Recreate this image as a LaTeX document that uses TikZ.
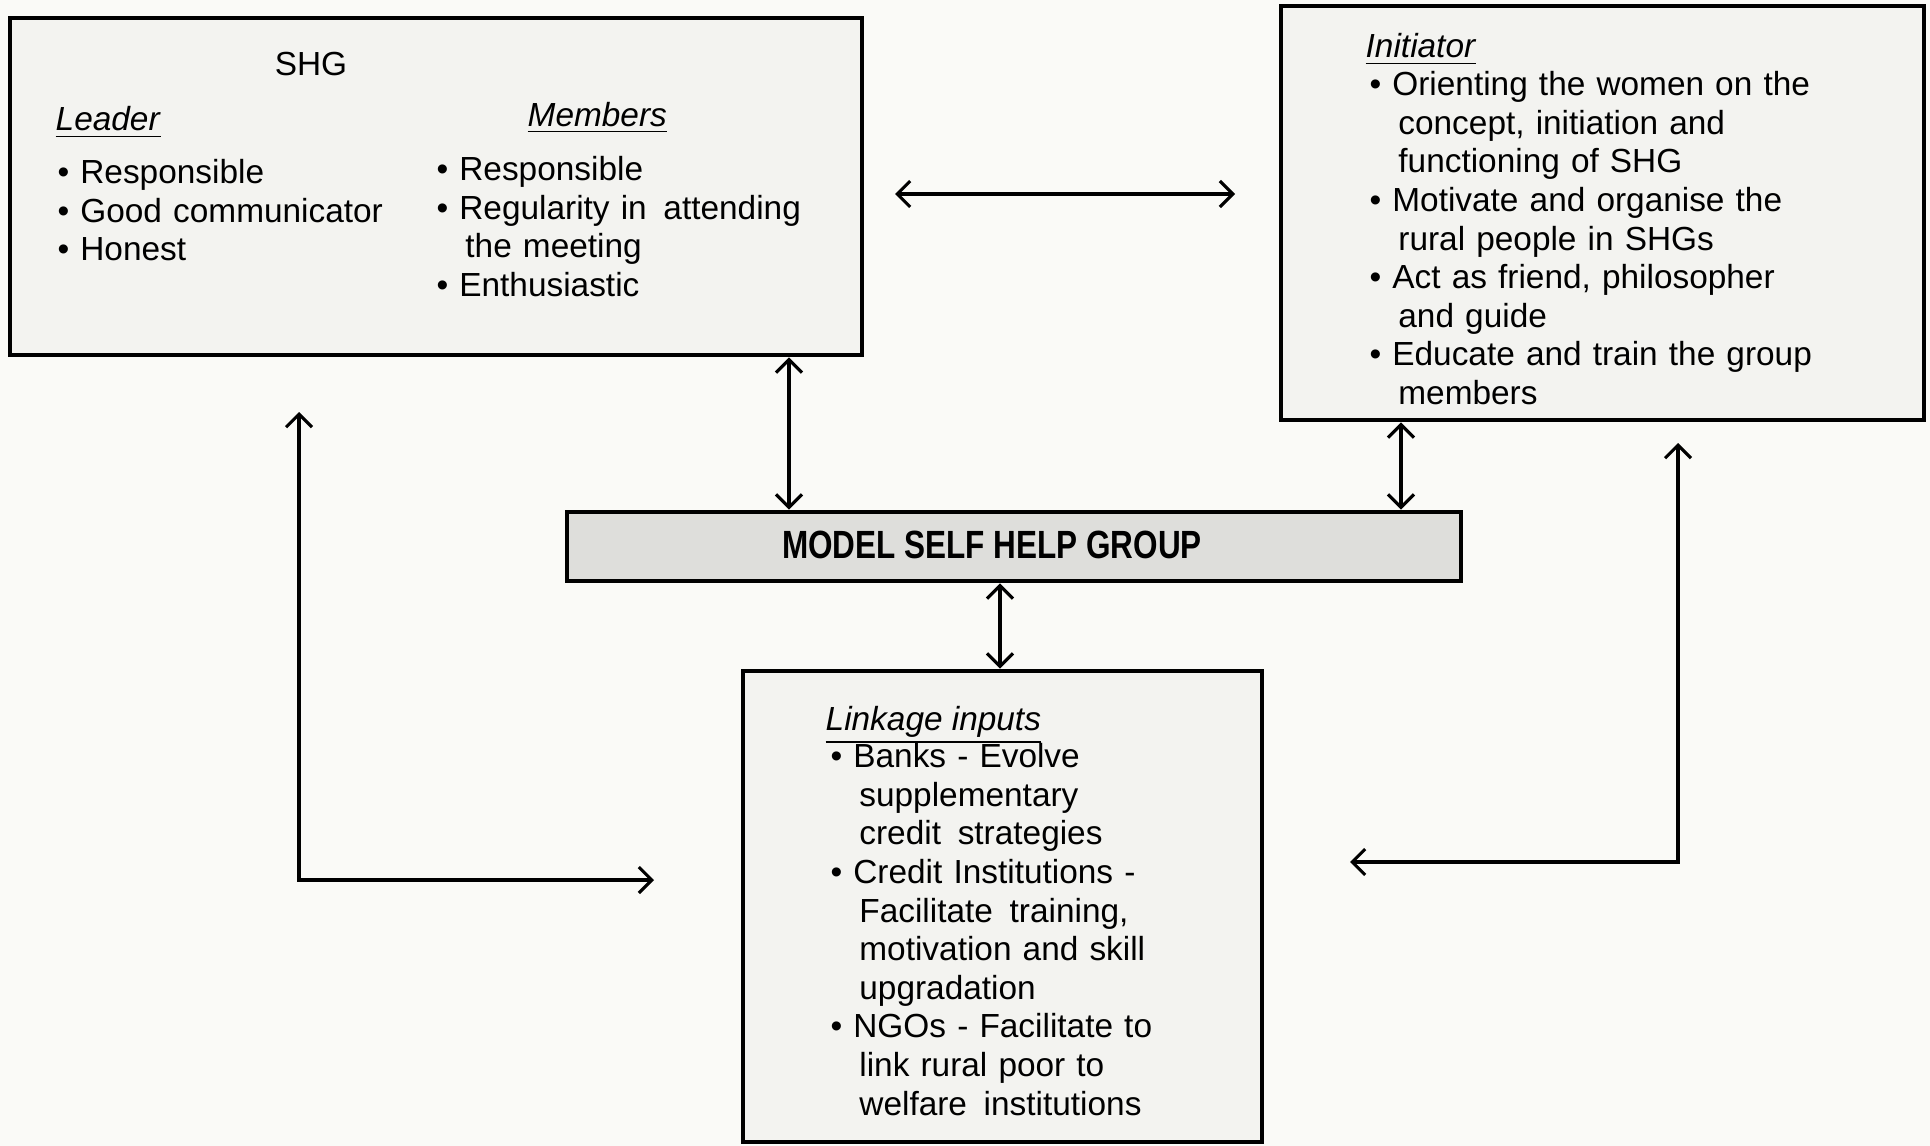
\documentclass[tikz,border=0pt]{standalone}
\usepackage{fontspec}
\setmainfont{Liberation Sans}
\newfontfamily\condfont[FakeStretch=0.8]{Liberation Sans}
\usetikzlibrary{arrows.meta,positioning}

\definecolor{paper}{RGB}{250,250,247}
\definecolor{stipple}{RGB}{243,243,240}
\definecolor{darkstipple}{RGB}{222,222,219}

\newcommand{\bitem}{\par\hangindent=0.86em\hangafter=1\noindent\makebox[0.68em][l]{\textbullet}}
\newcommand{\uhead}[1]{\underline{\textit{#1}}}

\tikzset{
  box/.style={draw, line width=1.4pt, fill=stipple},
  list/.style={anchor=north west, inner sep=0pt, align=left, text width=#1,
    font=\fontsize{9.5}{11}\selectfont},
  head/.style={anchor=base west, inner sep=0pt, font=\fontsize{9.5}{11}\selectfont},
  conn/.style={<->, line width=0.9pt},
}

\begin{document}
\begin{tikzpicture}[>={Straight Barb[length=1.3mm,width=2.6mm]}]
  \useasboundingbox[fill=paper] (0,0) rectangle (19.30,-11.46);
  % the four boxes
  \node (shg) [box, minimum width=8.52cm, minimum height=3.37cm] at (4.36,-1.865) {};
  \node (init) [box, minimum width=6.43cm, minimum height=4.14cm] at (16.025,-2.13) {};
  \node (model) [box, fill=darkstipple, minimum width=8.94cm, minimum height=0.69cm] at (10.14,-5.465) {};
  \node (linkage) [box, minimum width=5.19cm, minimum height=4.71cm] at (10.025,-9.065) {};
  % SHG
  \node (shgtitle) [font=\fontsize{9.5}{11}\selectfont] at (3.11,-0.64) {SHG};
  \node (leader) [head] at (0.55,-1.31) {\uhead{Leader}};
  \node (leaderlist) [list=3.6cm] at (0.57,-1.44)
    {\bitem Responsible \bitem Good communicator \bitem Honest\par};
  \node (members) [head] at (5.27,-1.26) {\uhead{Members}};
  \node (memberlist) [list=4.2cm] at (4.36,-1.41)
    {\bitem Responsible
     \bitem Regularity in\enspace attending\newline the meeting
     \bitem Enthusiastic\par};
  % initiator
  \node (inithead) [head] at (13.65,-0.58) {\uhead{Initiator}};
  \node (initlist) [list=5.6cm] at (13.69,-0.56)
    {\bitem Orienting the women on the\newline concept, initiation and\newline functioning of SHG
     \bitem Motivate and organise the\newline rural people in SHGs
     \bitem Act as friend, philosopher\newline and guide
     \bitem Educate and train the group\newline members\par};
  % middle bar
  \node (title) [font=\condfont\bfseries\fontsize{11.2}{12}\selectfont] at (9.92,-5.45) {MODEL SELF HELP GROUP};
  % linkage inputs
  \node (linkhead) [head] at (8.25,-7.30) {\uhead{Linkage inputs}};
  \node (linklist) [list=4.3cm] at (8.30,-7.28)
    {\bitem Banks - Evolve\newline supplementary\newline credit\enspace strategies
     \bitem Credit Institutions -\newline Facilitate\enspace training,\newline motivation and skill\newline upgradation
     \bitem NGOs - Facilitate to\newline link rural poor to\newline welfare\enspace institutions\par};
  % connectors
  \coordinate (hl) at (8.95,-1.94);
  \coordinate (hr) at (12.35,-1.94);
  \draw[conn] (hl) -- (hr);
  \coordinate (sx) at (7.89,0);
  \draw[conn] (shg.south -| sx) -- (model.north -| sx);
  \coordinate (ix) at (14.01,0);
  \draw[conn] (init.south -| ix) -- (model.north -| ix);
  \coordinate (mx) at (10.00,0);
  \draw[conn] (model.south -| mx) -- (linkage.north -| mx);
  \coordinate (lu) at (2.99,-4.12);
  \coordinate (lr) at (6.54,-8.80);
  \draw[conn] (lu) -- (lu |- lr) -- (lr);
  \coordinate (ru) at (16.78,-4.43);
  \coordinate (rl) at (13.50,-8.62);
  \draw[conn] (ru) -- (ru |- rl) -- (rl);
\end{tikzpicture}
\end{document}
